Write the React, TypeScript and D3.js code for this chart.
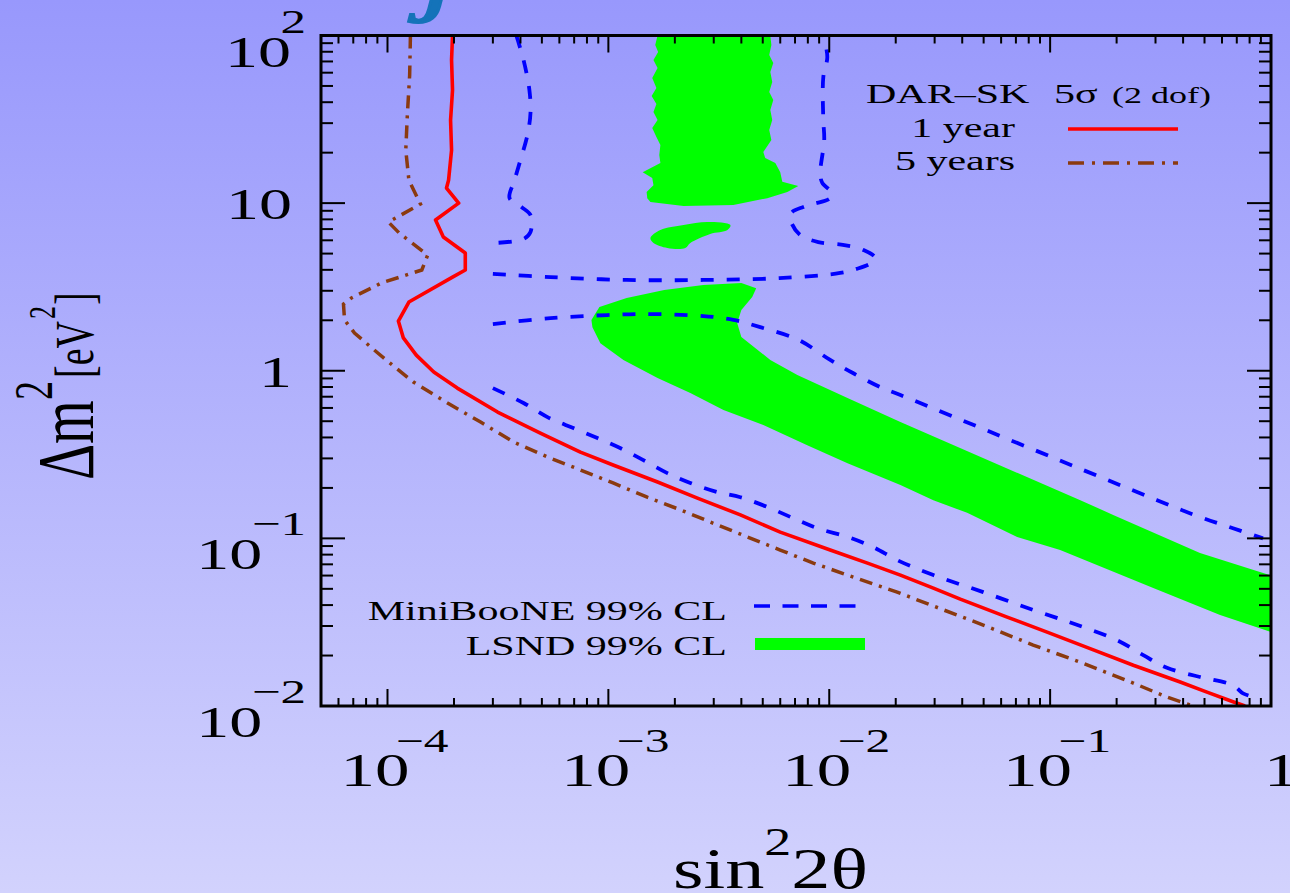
import React from 'react';
import * as d3 from 'd3';

type Pt = [number, number];

// Axis domains: sin^2(2θ) horizontally, Δm^2 [eV^2] vertically
const sinDomain: Pt = [5e-5, 1];
const dmDomain: Pt = [0.01, 100];

const xTickLabels = [
  { value: 1e-4, base: '10', exp: '−4' },
  { value: 1e-3, base: '10', exp: '−3' },
  { value: 1e-2, base: '10', exp: '−2' },
  { value: 1e-1, base: '10', exp: '−1' },
  { value: 1, base: '1', exp: '' },
];
const yTickLabels = [
  { value: 100, base: '10', exp: '2' },
  { value: 10, base: '10', exp: '' },
  { value: 1, base: '1', exp: '' },
  { value: 0.1, base: '10', exp: '−1' },
  { value: 0.01, base: '10', exp: '−2' },
];

// DAR-SK 5σ sensitivity, 1 year
const oneYear: Pt[] = [
  [1.97e-4, 100], [1.95e-4, 71.4], [1.97e-4, 47.3], [1.93e-4, 31.3], [1.95e-4, 20.7],
  [1.89e-4, 13.7], [1.85e-4, 12.3], [2.1e-4, 10.0], [1.65e-4, 7.93], [1.79e-4, 6.28],
  [2.25e-4, 5.04], [2.25e-4, 3.99], [1.97e-4, 3.62], [1.25e-4, 2.57], [1.12e-4, 1.98],
  [1.18e-4, 1.57], [1.35e-4, 1.24], [1.62e-4, 0.982], [2.07e-4, 0.788], [3.15e-4, 0.567],
  [4.92e-4, 0.425], [7.47e-4, 0.327], [1.05e-3, 0.274], [1.67e-3, 0.217], [2.53e-3, 0.174],
  [3.96e-3, 0.138], [6.0e-3, 0.109], [1.01e-2, 0.0852], [1.49e-2, 0.0712], [2.1e-2, 0.0604],
  [2.96e-2, 0.0505], [3.92e-2, 0.0434], [6.39e-2, 0.0339], [9.69e-2, 0.0276], [0.157, 0.0216],
  [0.238, 0.0175], [0.388, 0.0139], [0.513, 0.0121], [0.673, 0.0106], [0.763, 0.01],
];

// DAR-SK 5σ sensitivity, 5 years
const fiveYears: Pt[] = [
  [1.27e-4, 100], [1.26e-4, 58.1], [1.23e-4, 33.6], [1.21e-4, 20.7], [1.25e-4, 13.7],
  [1.41e-4, 9.88], [1.01e-4, 7.71], [1.13e-4, 6.63], [1.52e-4, 4.9], [1.43e-4, 3.99],
  [9.39e-5, 3.34], [6.87e-5, 2.72], [6.32e-5, 2.5], [6.39e-5, 2.01], [7.09e-5, 1.68],
  [9.01e-5, 1.28], [1.01e-4, 1.13], [1.31e-4, 0.856], [1.87e-4, 0.642], [2.64e-4, 0.494],
  [3.72e-4, 0.376], [5.3e-4, 0.306], [7.47e-4, 0.256], [1.05e-3, 0.214], [1.5e-3, 0.176],
  [2.12e-3, 0.148], [2.99e-3, 0.123], [4.26e-3, 0.102], [6.0e-3, 0.0852], [8.47e-3, 0.0712],
  [1.21e-2, 0.0604], [2.03e-2, 0.0478], [2.96e-2, 0.0395], [4.98e-2, 0.0304], [8.38e-2, 0.0231],
  [0.141, 0.018], [0.238, 0.0137], [0.338, 0.0113], [0.444, 0.01],
];

// MiniBooNE 99% CL contour pieces
const miniBooNE1: Pt[] = [
  [3.83e-4, 100], [4.13e-4, 71.4], [4.39e-4, 47.3], [4.44e-4, 34.5], [4.3e-4, 25.5],
  [4.0e-4, 18.1], [3.76e-4, 13.7], [3.57e-4, 10.7], [4.04e-4, 9.48], [4.44e-4, 8.49],
  [4.44e-4, 6.72], [4.13e-4, 6.11], [3.0e-4, 5.78],
];
const miniBooNE2: Pt[] = [
  [3.0e-4, 3.78], [5.47e-4, 3.62], [1.21e-3, 3.48], [2.69e-3, 3.48], [5.94e-3, 3.57],
  [1.12e-2, 3.83], [1.33e-2, 4.05], [1.55e-2, 4.39], [1.62e-2, 4.7], [1.43e-2, 5.25],
  [1.17e-2, 5.62], [8.92e-3, 5.86], [7.39e-3, 6.45], [6.73e-3, 7.71], [6.73e-3, 8.73],
  [7.63e-3, 9.48], [8.47e-3, 9.88], [1.01e-2, 10.7], [1.03e-2, 11.5], [9.3e-3, 13.2],
  [9.11e-3, 15.1], [9.49e-3, 23.8], [9.4e-3, 31.3], [9.4e-3, 56.5], [9.8e-3, 74.4],
  [9.4e-3, 100],
];
const miniBooNE3: Pt[] = [
  [3.0e-4, 1.9], [5.47e-4, 2.06], [9.9e-4, 2.15], [1.47e-3, 2.18], [2.69e-3, 2.12],
  [3.68e-3, 2.01], [4.87e-3, 1.82], [7.24e-3, 1.53], [1.01e-2, 1.16], [1.28e-2, 0.969],
  [1.7e-2, 0.799], [2.1e-2, 0.716], [0.305, 0.169], [0.477, 0.134], [0.673, 0.115],
  [0.92, 0.1],
];
const miniBooNE4: Pt[] = [
  [3.0e-4, 0.788], [4.13e-4, 0.642], [5.3e-4, 0.529], [6.94e-4, 0.455], [8.92e-4, 0.397],
  [1.13e-3, 0.346], [1.44e-3, 0.293], [1.85e-3, 0.245], [2.35e-3, 0.214], [3.11e-3, 0.189],
  [3.96e-3, 0.176], [5.24e-3, 0.154], [6.87e-3, 0.132], [8.83e-3, 0.115], [1.21e-2, 0.102],
  [1.58e-2, 0.0887], [2.03e-2, 0.0742], [2.96e-2, 0.0604], [4.98e-2, 0.0478], [8.38e-2, 0.0374],
  [0.133, 0.0304], [0.201, 0.0247], [0.264, 0.0201], [0.338, 0.0169], [0.477, 0.0149],
  [0.673, 0.0133], [0.747, 0.0119], [0.838, 0.0113],
];

// LSND 99% CL allowed regions
const lsndUpper: Pt[] = [
  [1.67e-3, 100], [1.63e-3, 87.8], [1.68e-3, 79.7], [1.6e-3, 71.4], [1.67e-3, 64.0],
  [1.58e-3, 55.8], [1.65e-3, 48.6], [1.57e-3, 43.6], [1.65e-3, 39.0], [1.6e-3, 35.0],
  [1.67e-3, 31.3], [1.58e-3, 28.1], [1.65e-3, 24.8], [1.72e-3, 22.2], [1.7e-3, 19.4],
  [1.72e-3, 17.35], [1.43e-3, 15.3], [1.58e-3, 14.1], [1.6e-3, 12.8], [1.49e-3, 11.65],
  [1.5e-3, 10.7], [1.55e-3, 10.15], [2.19e-3, 9.61], [3.68e-3, 9.74], [5.24e-3, 10.7],
  [6.46e-3, 11.65], [7.24e-3, 12.65], [6.13e-3, 13.4], [6.0e-3, 15.3], [5.7e-3, 17.35],
  [5.13e-3, 18.6], [5.03e-3, 20.2], [5.47e-3, 23.8], [5.35e-3, 27.3], [5.52e-3, 31.3],
  [5.41e-3, 35.9], [5.58e-3, 41.2], [5.35e-3, 46.0], [5.52e-3, 52.8], [5.41e-3, 60.6],
  [5.58e-3, 68.5], [5.35e-3, 76.5], [5.47e-3, 87.8], [5.41e-3, 100],
];
const lsndIsland: Pt[] = [
  [1.55e-3, 6.19], [1.72e-3, 6.91], [2.19e-3, 7.4], [2.81e-3, 7.71], [3.57e-3, 7.4],
  [3.46e-3, 6.91], [2.89e-3, 6.54], [2.35e-3, 5.78], [2.23e-3, 5.4], [1.85e-3, 5.4],
  [1.6e-3, 5.78],
];
const lsndBand: Pt[] = [
  [8.38e-4, 2.01], [9.11e-4, 2.4], [1.21e-3, 2.72], [1.79e-3, 3.03], [2.69e-3, 3.25],
  [4.0e-3, 3.34], [4.67e-3, 3.11], [4.48e-3, 2.75], [4.0e-3, 2.3], [3.83e-3, 1.93],
  [4.0e-3, 1.59], [5.41e-3, 1.16], [7.17e-3, 0.943], [1.21e-2, 0.687], [2.1e-2, 0.494],
  [0.137, 0.169], [0.193, 0.138], [0.477, 0.0817], [1.0, 0.06], [1.0, 0.0276],
  [0.588, 0.0349], [0.293, 0.0505], [0.111, 0.0852], [7.09e-2, 0.102], [4.21e-2, 0.142],
  [2.96e-2, 0.169], [2.1e-2, 0.208], [1.21e-2, 0.281], [7.95e-3, 0.36], [5.03e-3, 0.474],
  [3.32e-3, 0.583], [2.35e-3, 0.736], [1.67e-3, 0.905], [1.17e-3, 1.16], [9.2e-4, 1.46],
  [8.47e-4, 1.82],
];

const W = 1290;
const H = 893;
const PLOT = { left: 321, right: 1271, top: 35.5, bottom: 706 };
const SERIF = "'Liberation Serif', 'Times New Roman', 'DejaVu Serif', serif";
const RED = '#ff0000';
const BROWN = '#8b3a0f';
const BLUE = '#0000ff';
const GREEN = '#00ff00';
const STRETCH = 1.5;

function SText(props: {
  x: number; y: number; size: number; sx?: number; anchor?: string;
  fill?: string; italic?: boolean; stroke?: string; children: React.ReactNode;
}) {
  const { x, y, size, sx = STRETCH, anchor = 'start', fill = '#000', italic, stroke, children } = props;
  return (
    <text
      transform={`translate(${x},${y}) scale(${sx},1)`}
      fontSize={size}
      fontFamily={SERIF}
      textAnchor={anchor}
      fill={fill}
      stroke={stroke}
      strokeWidth={stroke ? 2 : undefined}
      fontStyle={italic ? 'italic' : undefined}
    >
      {children}
    </text>
  );
}

// Rotated piece of the vertical axis title; glyph height is stretched along screen x
function VText(props: { x: number; y: number; size: number; children: React.ReactNode }) {
  return (
    <text
      transform={`translate(${props.x},${props.y}) rotate(-90) scale(1,1.43)`}
      fontFamily={SERIF}
      fontSize={props.size}
      fill="#000"
    >
      {props.children}
    </text>
  );
}

export default function App() {
  const x = d3.scaleLog().domain(sinDomain).range([PLOT.left, PLOT.right]);
  const y = d3.scaleLog().domain(dmDomain).range([PLOT.bottom, PLOT.top]);

  const straight = d3.line<Pt>().x(d => x(d[0])).y(d => y(d[1]));
  const smooth = d3.line<Pt>().x(d => x(d[0])).y(d => y(d[1])).curve(d3.curveCatmullRom.alpha(0.5));
  const jaggedArea = d3.line<Pt>().x(d => x(d[0])).y(d => y(d[1])).curve(d3.curveLinearClosed);
  const smoothArea = d3.line<Pt>().x(d => x(d[0])).y(d => y(d[1])).curve(d3.curveCatmullRomClosed.alpha(0.5));

  const isMajor = (v: number) => Math.abs(Math.log10(v) - Math.round(Math.log10(v))) < 1e-6;
  const xTicks = x.ticks().filter(v => v > sinDomain[0] * 1.001);
  const yTicks = y.ticks();

  const blueDash = '13,13';
  const brownDash = '13,7,3,7';

  return (
    <svg
      width={W}
      height={H}
      viewBox={`0 0 ${W} ${H}`}
      style={{ position: 'absolute', left: 0, top: 0, display: 'block' }}
    >
      <defs>
        <linearGradient id="bg" x1="0" y1="0" x2="0" y2="1">
          <stop offset="0" stopColor="rgb(152,152,252)" />
          <stop offset="1" stopColor="rgb(210,210,253)" />
        </linearGradient>
        <clipPath id="plotClip">
          <rect x={PLOT.left} y={PLOT.top} width={PLOT.right - PLOT.left} height={PLOT.bottom - PLOT.top} />
        </clipPath>
      </defs>
      <rect x={0} y={0} width={W} height={H} fill="url(#bg)" />

      {/* slide title descender peeking in from above */}
      <SText x={422} y={5} size={84} italic fill="#1473b9" stroke="#1473b9">j</SText>

      <g clipPath="url(#plotClip)">
        <path d={jaggedArea(lsndUpper) ?? ''} fill={GREEN} />
        <path d={smoothArea(lsndIsland) ?? ''} fill={GREEN} />
        <path d={jaggedArea(lsndBand) ?? ''} fill={GREEN} />

        {[miniBooNE1, miniBooNE2, miniBooNE3, miniBooNE4].map((seg, i) => (
          <path key={i} d={smooth(seg) ?? ''} fill="none" stroke={BLUE} strokeWidth={3.8} strokeDasharray={blueDash} />
        ))}
        <path d={straight(fiveYears) ?? ''} fill="none" stroke={BROWN} strokeWidth={3.5} strokeDasharray={brownDash} />
        <path d={straight(oneYear) ?? ''} fill="none" stroke={RED} strokeWidth={3.6} strokeLinejoin="round" />
      </g>

      {/* ticks on all four sides, pointing inward */}
      <g stroke="#000" strokeWidth={2}>
        {yTicks.map((v, i) => {
          const len = isMajor(v) ? 24 : 12;
          const py = y(v);
          return (
            <g key={`y${i}`}>
              <line x1={PLOT.left} x2={PLOT.left + len} y1={py} y2={py} />
              <line x1={PLOT.right} x2={PLOT.right - len} y1={py} y2={py} />
            </g>
          );
        })}
        {xTicks.map((v, i) => {
          const len = isMajor(v) ? 17 : 8;
          const px = x(v);
          return (
            <g key={`x${i}`}>
              <line x1={px} x2={px} y1={PLOT.bottom} y2={PLOT.bottom - len} />
              <line x1={px} x2={px} y1={PLOT.top} y2={PLOT.top + len} />
            </g>
          );
        })}
      </g>
      <rect
        x={PLOT.left}
        y={PLOT.top}
        width={PLOT.right - PLOT.left}
        height={PLOT.bottom - PLOT.top}
        fill="none"
        stroke="#000"
        strokeWidth={3}
      />

      {/* tick labels */}
      {xTickLabels.map(t => {
        const px = x(t.value);
        if (!t.exp) {
          return <SText key={t.value} x={px - 7} y={786} size={46}>{t.base}</SText>;
        }
        return (
          <SText key={t.value} x={px - 47} y={786} size={46}>
            {t.base}
            <tspan dx={-9} dy={-34} fontSize={33}>{t.exp}</tspan>
          </SText>
        );
      })}
      {yTickLabels.map(t => {
        const py = y(t.value);
        if (!t.exp) {
          return <SText key={t.value} x={292} y={py + 16} size={44} anchor="end">{t.base}</SText>;
        }
        return (
          <SText key={t.value} x={306} y={py + 31} size={44} anchor="end">
            {t.base}
            <tspan dx={-7} dy={-34} fontSize={34}>{t.exp}</tspan>
          </SText>
        );
      })}

      {/* axis titles */}
      <SText x={673} y={888} size={58} sx={1.35}>
        sin<tspan dy={-33} fontSize={40}>2</tspan><tspan dy={33}>2θ</tspan>
      </SText>
      <VText x={93} y={480} size={56}>Δm</VText>
      <VText x={52} y={400} size={38}>2</VText>
      <VText x={93} y={378} size={38}>[eV</VText>
      <VText x={55} y={319} size={26}>2</VText>
      <VText x={93} y={305} size={38}>]</VText>

      {/* DAR-SK legend */}
      <SText x={866} y={103} size={28}>DAR–SK</SText>
      <SText x={1054} y={103} size={28}>5σ</SText>
      <SText x={1112} y={103} size={24}>(2 dof)</SText>
      <SText x={1015} y={137} size={28} anchor="end">1 year</SText>
      <SText x={1015} y={170} size={28} anchor="end">5 years</SText>
      <line x1={1068} x2={1178} y1={129} y2={129} stroke={RED} strokeWidth={3.5} />
      <line x1={1068} x2={1178} y1={163} y2={163} stroke={BROWN} strokeWidth={3.5} strokeDasharray="16,8,3,8" />

      {/* experiments legend */}
      <SText x={727} y={620} size={28} anchor="end">MiniBooNE 99% CL</SText>
      <SText x={727} y={655} size={28} anchor="end">LSND 99% CL</SText>
      <line x1={754} x2={858} y1={606} y2={606} stroke={BLUE} strokeWidth={3.5} strokeDasharray="16,12.5" />
      <rect x={755} y={638} width={110} height={12} fill={GREEN} />
    </svg>
  );
}
